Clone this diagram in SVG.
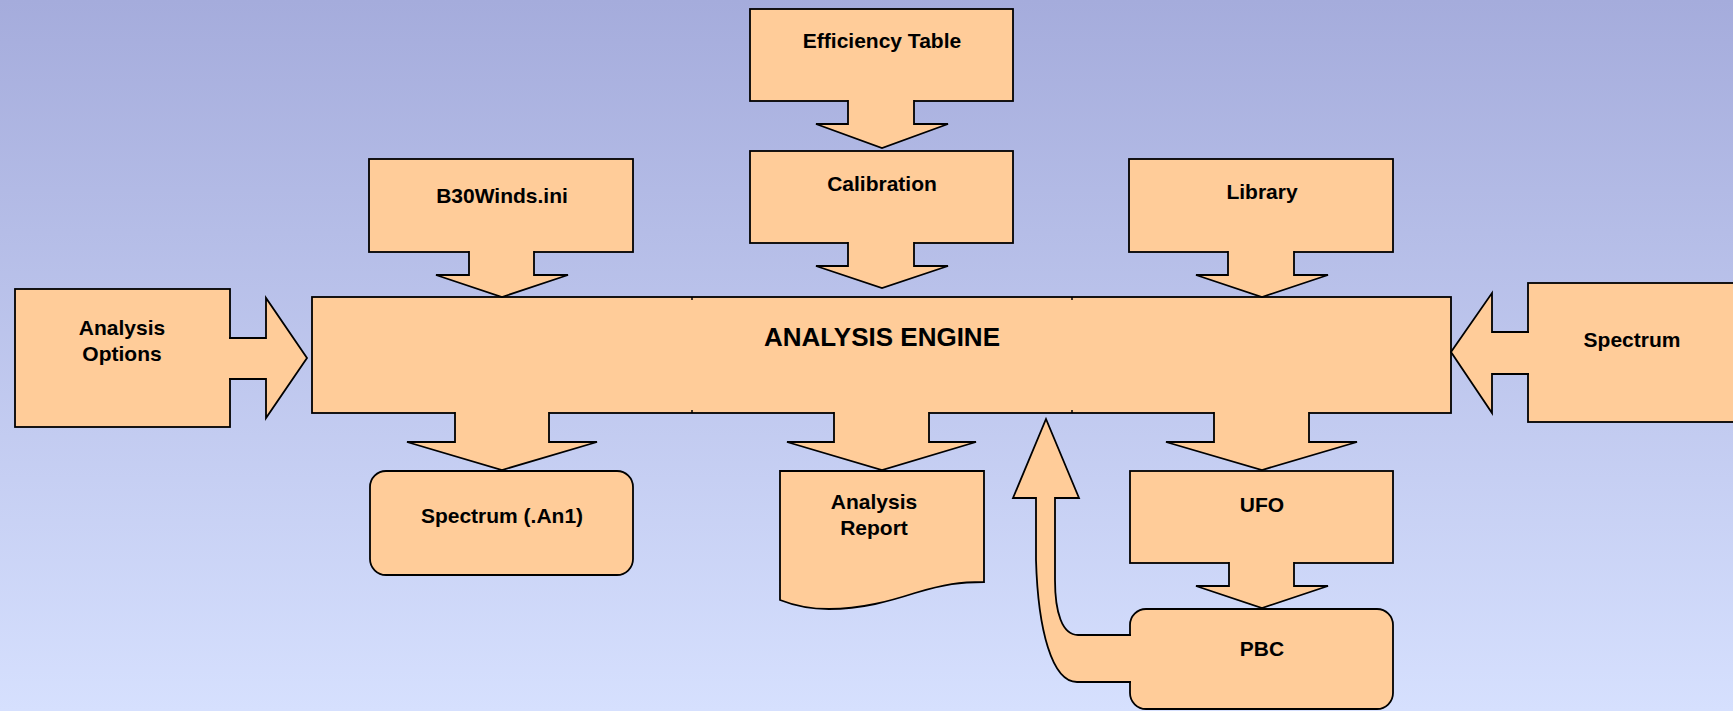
<svg xmlns="http://www.w3.org/2000/svg" width="1733" height="711" viewBox="0 0 1733 711">
<defs>
<linearGradient id="bg" x1="0" y1="0" x2="0" y2="1">
<stop offset="0" stop-color="#a5acdc"/>
<stop offset="1" stop-color="#d6e0fe"/>
</linearGradient>
</defs>
<style>
.s{fill:#ffcc99;stroke:#000;stroke-width:1.8;stroke-linejoin:miter}
.t{font-family:"Liberation Sans",Arial,sans-serif;font-weight:bold;font-size:21px;fill:#000;text-anchor:middle}
.big{font-size:26px}
.tick{stroke:#000;stroke-width:1.5}
</style>
<rect width="1733" height="711" fill="url(#bg)"/>

<g id="efficiency-table"><rect class="s" x="750" y="9" width="263" height="92"/><text class="t" x="882" y="48">Efficiency Table</text></g>
<g id="calibration"><rect class="s" x="750" y="151" width="263" height="92"/><text class="t" x="882" y="191">Calibration</text></g>
<g id="b30winds"><rect class="s" x="369" y="159" width="264" height="93"/><text class="t" x="502" y="203">B30Winds.ini</text></g>
<g id="library"><rect class="s" x="1129" y="159" width="264" height="93"/><text class="t" x="1262" y="199">Library</text></g>
<g id="analysis-options"><rect class="s" x="15" y="289" width="215" height="138"/><text class="t" x="122" y="335">Analysis</text><text class="t" x="122" y="361">Options</text></g>
<g id="spectrum-in"><rect class="s" x="1528" y="283" width="210" height="139"/><text class="t" x="1632" y="347">Spectrum</text></g>
<g id="engine"><rect class="s" x="312" y="297" width="1139" height="116"/>
<line class="tick" x1="692" y1="297" x2="692" y2="300"/><line class="tick" x1="1072" y1="297" x2="1072" y2="300"/>
<line class="tick" x1="692" y1="410" x2="692" y2="413"/><line class="tick" x1="1072" y1="410" x2="1072" y2="413"/>
<text class="t big" x="882" y="346">ANALYSIS ENGINE</text></g>
<g id="spectrum-an1"><rect class="s" x="370" y="471" width="263" height="104" rx="16"/><text class="t" x="502" y="523">Spectrum (.An1)</text></g>
<g id="analysis-report"><path class="s" d="M780,471 H984 V582 C960,582 945,584 915,593 C890,601 862,609 829,609 C810,609 795,606 780,600 Z"/><text class="t" x="874" y="509">Analysis</text><text class="t" x="874" y="535">Report</text></g>
<g id="ufo"><rect class="s" x="1130" y="471" width="263" height="92"/><text class="t" x="1262" y="512">UFO</text></g>
<g id="pbc"><rect class="s" x="1130" y="609" width="263" height="100" rx="16"/><text class="t" x="1262" y="656">PBC</text></g>

<g id="connectors">
<path class="s" d="M848,100 V124 H816 L882,148 L948,124 H914 V100"/>
<path class="s" d="M848,242 V266 H816 L882,288 L948,266 H914 V242"/>
<path class="s" d="M469,251 V275 H436 L502,297 L568,275 H534 V251"/>
<path class="s" d="M1228,251 V275 H1196 L1262,297 L1328,275 H1294 V251"/>
<path class="s" d="M229,338 H266 V298 L307,358 L266,418 V379 H229"/>
<path class="s" d="M1529,332 H1492 V293 L1451,352 L1492,413 V374 H1529"/>
<path class="s" d="M455,412 V442 H407 L502,470 L597,442 H549 V412"/>
<path class="s" d="M834,412 V442 H787 L882,470 L976,442 H929 V412"/>
<path class="s" d="M1214,412 V442 H1166 L1262,470 L1357,442 H1309 V412"/>
<path class="s" d="M1229,562 V586 H1196 L1262,608 L1328,586 H1294 V562"/>
<path class="s" d="M1131,682 H1077 C1052,682 1038,630 1036,560 V498 H1013 L1046,419 L1079,498 H1055 V580 C1055,612 1062,635 1078,635 H1131"/>
</g>
</svg>
